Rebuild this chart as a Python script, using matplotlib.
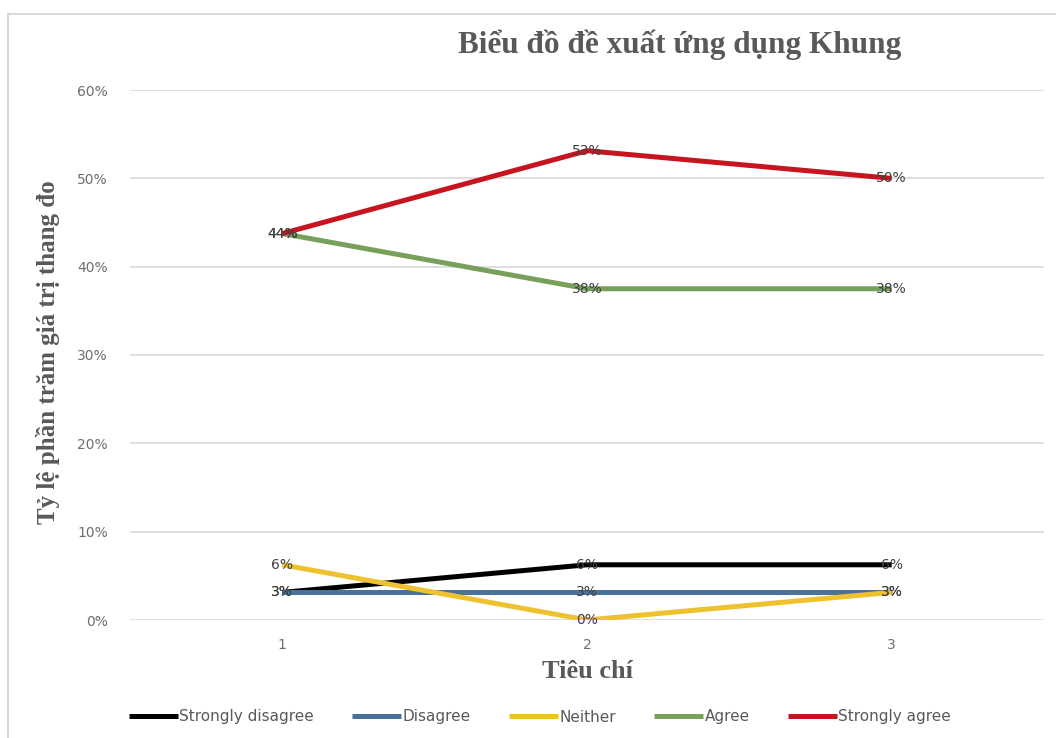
import matplotlib
matplotlib.use("Agg")
import matplotlib.pyplot as plt
from matplotlib.patches import Rectangle

# Dữ liệu: tỷ lệ (%) theo từng tiêu chí
criteria = [1, 2, 3]
series_names = ["Strongly disagree", "Disagree", "Neither", "Agree", "Strongly agree"]
strongly_disagree = [3.125, 6.25, 6.25]
disagree = [3.125, 3.125, 3.125]
neither = [6.25, 0.0, 3.125]
agree = [43.75, 37.5, 37.5]
strongly_agree = [43.75, 53.125, 50.0]
y_ticks = [0, 10, 20, 30, 40, 50, 60]

colors = ["#000000", "#4A7199", "#EEC22E", "#78A05A", "#C8141E"]
all_series = [strongly_disagree, disagree, neither, agree, strongly_agree]

fig = plt.figure(figsize=(10.56, 7.38), dpi=100)
ax = fig.add_axes([130 / 1056, 1 - 620 / 738, 914 / 1056, 530 / 738])

# Khung viền biểu đồ
fig.patches.append(Rectangle((8 / 1056, -0.1), 1.2, 1 - 14 / 738 + 0.1,
                             transform=fig.transFigure, fill=False,
                             edgecolor="#D9D9D9", linewidth=1.5))

for name, vals, c in zip(series_names, all_series, colors):
    ax.plot(criteria, vals, color=c, linewidth=3.6, label=name,
            solid_capstyle="butt", zorder=3)
    for x, v in zip(criteria, vals):
        ax.text(x, v, "{:.0f}%".format(round(v + 1e-9)), ha="center", va="center",
                fontsize=10, color="#404040", zorder=4)

ax.set_xlim(0.5, 3.5)
ax.set_ylim(0, 60)
ax.set_yticks(y_ticks)
ax.set_yticklabels([f"{t}%" for t in y_ticks])
ax.set_xticks(criteria)
ax.set_xticklabels([str(c) for c in criteria])
ax.grid(axis="y", color="#D9D9D9", linewidth=1.2)
ax.set_axisbelow(True)
for s in ax.spines.values():
    s.set_visible(False)
ax.tick_params(axis="both", length=0, labelsize=10, labelcolor="#6E6E6E")
ax.tick_params(axis="y", pad=16)
ax.tick_params(axis="x", pad=13)

fig.text(680 / 1056, 1 - 45 / 738, "Biểu đồ đề xuất ứng dụng Khung",
         ha="center", va="center", fontsize=22.5, fontweight="bold",
         family="Liberation Serif", color="#595959")
fig.text(48 / 1056, 1 - 352 / 738, "Tỷ lệ phần trăm giá trị thang đo",
         ha="center", va="center", rotation=90, fontsize=18, fontweight="bold",
         family="Liberation Serif", color="#595959")
fig.text(587 / 1056, 1 - 672 / 738, "Tiêu chí",
         ha="center", va="center", fontsize=19, fontweight="bold",
         family="Liberation Serif", color="#595959")

fig.legend(loc="center", bbox_to_anchor=(540 / 1056, 1 - 717 / 738), ncol=5,
           frameon=False, handlelength=3.2, handletextpad=0.1,
           columnspacing=2.5, prop={"size": 11}, labelcolor="#595959")

fig.savefig("out.png", dpi=100, facecolor="white")
